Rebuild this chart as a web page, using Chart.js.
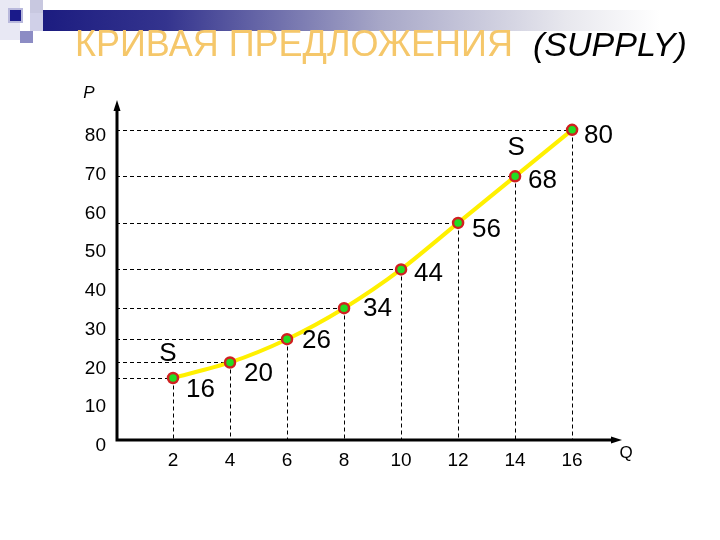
<!DOCTYPE html>
<html><head><meta charset="utf-8">
<script src="https://cdn.jsdelivr.net/npm/chart.js@4/dist/chart.umd.min.js"></script>
<style>
html,body{margin:0;padding:0;background:#fff;}
#wrap{position:relative;width:720px;height:540px;}
</style>
</head><body>
<div id="wrap"><canvas id="c" width="720" height="540"></canvas></div>
<script>
// ---- data ----
const quantities = [2, 4, 6, 8, 10, 12, 14, 16];
const prices = [16, 20, 26, 34, 44, 56, 68, 80];
const xTickValues = [2, 4, 6, 8, 10, 12, 14, 16];
const yTickValues = [0, 10, 20, 30, 40, 50, 60, 70, 80];
const titleMain = 'КРИВАЯ ПРЕДЛОЖЕНИЯ';
const titleSub = '(SUPPLY)';
const curveName = 'S';
const xAxisName = 'Q';
const yAxisName = 'P';

const FONT = '"Liberation Sans", Arial, sans-serif';

const decor = {
  id: 'decor',
  beforeDraw(chart) {
    const ctx = chart.ctx;
    ctx.save();
    ctx.fillStyle = '#fff';
    ctx.fillRect(0, 0, chart.width, chart.height);
    // gradient bar
    const g = ctx.createLinearGradient(43, 0, 660, 0);
    g.addColorStop(0, '#1c1c80');
    g.addColorStop(0.2, '#34348e');
    g.addColorStop(0.55, '#a8a8c8');
    g.addColorStop(0.85, '#e8e8ee');
    g.addColorStop(1, '#ffffff');
    ctx.fillStyle = g;
    ctx.fillRect(43, 10, 617, 21);
    // squares
    ctx.fillStyle = '#e8e8f4'; ctx.fillRect(0, 0, 20, 40);
    ctx.fillStyle = '#c8c8e0'; ctx.fillRect(30, 0, 13, 13);
    ctx.fillStyle = '#d0d0e8'; ctx.fillRect(30, 13, 13, 18);
    ctx.fillStyle = '#8c8cc4'; ctx.fillRect(20, 31, 13, 12);
    ctx.fillStyle = '#b8b8dc'; ctx.fillRect(8, 8, 15, 15);
    ctx.fillStyle = '#1a1a8a'; ctx.fillRect(10, 10, 11, 11);
    ctx.restore();
  },
  beforeDatasetsDraw(chart) {
    const ctx = chart.ctx;
    const xs = chart.scales.x, ys = chart.scales.y;
    const x0 = xs.getPixelForValue(0), y0 = ys.getPixelForValue(0);
    ctx.save();
    // dashed guide lines
    ctx.strokeStyle = '#000';
    ctx.lineWidth = 1;
    ctx.setLineDash([4, 3]);
    quantities.forEach((q, i) => {
      const px = Math.round(xs.getPixelForValue(q)) + 0.5;
      const py = Math.round(ys.getPixelForValue(prices[i])) + 0.5;
      ctx.beginPath();
      ctx.moveTo(x0, py); ctx.lineTo(px, py);
      ctx.moveTo(px, py); ctx.lineTo(px, y0);
      ctx.stroke();
    });
    ctx.setLineDash([]);
    // axes
    const top = chart.chartArea.top, right = chart.chartArea.right;
    ctx.lineWidth = 3;
    ctx.beginPath();
    ctx.moveTo(x0 + 1, y0 + 1.5); ctx.lineTo(x0 + 1, top + 8);
    ctx.moveTo(x0, y0); ctx.lineTo(right - 8, y0);
    ctx.stroke();
    ctx.fillStyle = '#000';
    ctx.beginPath();
    ctx.moveTo(x0 + 1, top); ctx.lineTo(x0 - 2.5, top + 11); ctx.lineTo(x0 + 4.5, top + 11); ctx.closePath();
    ctx.fill();
    ctx.beginPath();
    ctx.moveTo(right, y0); ctx.lineTo(right - 11, y0 - 3.5); ctx.lineTo(right - 11, y0 + 3.5); ctx.closePath();
    ctx.fill();
    ctx.restore();
  },
  afterDraw(chart) {
    const ctx = chart.ctx;
    const xs = chart.scales.x, ys = chart.scales.y;
    ctx.save();
    // title
    ctx.textBaseline = 'alphabetic';
    ctx.textAlign = 'left';
    ctx.font = '36px ' + FONT;
    ctx.fillStyle = '#F5C76A';
    ctx.fillText(titleMain, 75, 56);
    ctx.font = 'italic 34px ' + FONT;
    ctx.fillStyle = '#000';
    ctx.fillText(titleSub, 533, 56);
    // axis names
    ctx.font = 'italic 17px ' + FONT;
    ctx.textBaseline = 'middle';
    ctx.textAlign = 'center';
    ctx.fillText(yAxisName, 89, 93);
    ctx.font = '17px ' + FONT;
    ctx.fillText(xAxisName, 626, 453);
    // value labels
    const dx = [13, 14, 15, 19, 13, 14, 13, 12];
    const dy = [12, 11, 2, 1, 4, 7, 4, 6];
    ctx.font = '26px ' + FONT;
    ctx.textAlign = 'left';
    quantities.forEach((q, i) => {
      const px = xs.getPixelForValue(q), py = ys.getPixelForValue(prices[i]);
      ctx.fillText(String(prices[i]), px + dx[i], py + dy[i]);
    });
    // curve name labels
    ctx.textAlign = 'center';
    const p0x = xs.getPixelForValue(quantities[0]), p0y = ys.getPixelForValue(prices[0]);
    ctx.fillText(curveName, p0x - 5, p0y - 24);
    const n = quantities.length - 2;
    const p1x = xs.getPixelForValue(quantities[n]), p1y = ys.getPixelForValue(prices[n]);
    ctx.fillText(curveName, p1x + 1, p1y - 29);
    ctx.restore();
  }
};

new Chart(document.getElementById('c'), {
  type: 'line',
  data: {
    datasets: [{
      data: quantities.map((q, i) => ({ x: q, y: prices[i] })),
      borderColor: '#FFF000',
      borderWidth: 4,
      tension: 0.25,
      pointRadius: 5,
      pointBackgroundColor: '#22DD22',
      pointBorderColor: '#D02020',
      pointBorderWidth: 2.5,
      clip: false
    }]
  },
  options: {
    responsive: false,
    animation: false,
    events: [],
    layout: { padding: { left: 0, right: 98, top: 100, bottom: 0 } },
    plugins: { legend: { display: false }, tooltip: { enabled: false }, title: { display: false } },
    scales: {
      x: {
        type: 'linear', min: 0, max: 17.75,
        afterBuildTicks: s => { s.ticks = xTickValues.map(v => ({ value: v })); },
        afterFit: s => { s.height = 100; },
        grid: { display: false, drawTicks: false },
        border: { display: false },
        ticks: { color: '#000', font: { size: 19, family: FONT }, padding: 9, maxRotation: 0, autoSkip: false }
      },
      y: {
        type: 'linear', min: 0, max: 87.7,
        afterBuildTicks: s => { s.ticks = yTickValues.map(v => ({ value: v })); },
        afterFit: s => { s.width = 116; },
        grid: { display: false, drawTicks: false },
        border: { display: false },
        ticks: { color: '#000', font: { size: 19, family: FONT }, padding: 10, labelOffset: 6, autoSkip: false }
      }
    }
  },
  plugins: [decor]
});
</script>
</body></html>
